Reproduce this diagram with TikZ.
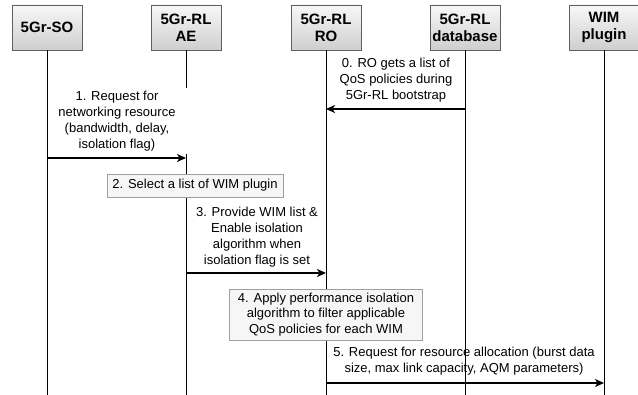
\documentclass[tikz,border=0pt]{standalone}
\usepackage{fontspec}
\setmainfont{Liberation Sans}
\usetikzlibrary{arrows.meta}
\begin{document}
\begin{tikzpicture}[x=1pt,y=-1pt,
 head/.style={draw=gray!75!black, line width=0.6pt, top color=gray!6, bottom color=gray!38, minimum width=70pt, minimum height=45pt, inner sep=0pt, align=center, font=\fontsize{15}{17}\selectfont\bfseries},
 life/.style={line width=0.8pt},
 msg/.style={line width=1.5pt, -{Stealth[length=9pt,width=8pt,inset=2.5pt]}},
 lbl/.style={fill=white, fill opacity=0.75, text opacity=1, align=center, font=\fontsize{13}{15.8}\selectfont, inner sep=0pt},
 act/.style={draw=gray!75, line width=0.6pt, fill=gray!7, align=center, font=\fontsize{13}{15.8}\selectfont, inner sep=0pt}
]
\useasboundingbox[fill=white] (0,0) rectangle (638,395);
% heads
\node[head] (so) at (47,27.5) {5Gr-SO};
\node[head] (ae) at (186,27.5) {5Gr-RL\\AE};
\node[head] (ro) at (326,27.5) {5Gr-RL\\RO};
\node[head] (db) at (465,27.5) {5Gr-RL\\database};
\node[head] (wim) at (604,27.5) {WIM\\plugin};
% lifeline ends
\coordinate (soE) at (so |- 0,395);
\coordinate (aeE) at (ae |- 0,395);
\coordinate (roE) at (ro |- 0,395);
\coordinate (dbE) at (db |- 0,395);
\coordinate (wimE) at (wim |- 0,395);
\draw[life] (so.south) -- (soE);
\draw[life] (ae.south) -- (aeE);
\draw[life] (ro.south) -- (roE);
\draw[life] (db.south) -- (dbE);
\draw[life] (wim.south) -- (wimE);
% label backgrounds
\node[lbl, minimum width=137pt, minimum height=48pt] (l0) at (396,80) {0. RO gets a list of\\QoS policies during\\5Gr-RL bootstrap};
\node[lbl, fill opacity=1, minimum width=139pt, minimum height=66pt] (l1) at (117,121) {1. Request for\\networking resource\\(bandwidth, delay,\\isolation flag)};
\node[lbl, minimum width=138pt, minimum height=66pt] (l3) at (257,237) {3. Provide WIM list \&\\Enable isolation\\algorithm when\\isolation flag is set};
\node[lbl, minimum width=276pt, minimum height=34pt] (l5) at (464,361) {5. Request for resource allocation (burst data\\size, max link capacity, AQM parameters)};
\draw[life] (so.south) -- (soE);
\draw[life] (ae.south |- l3.north) -- (aeE);
\draw[life] (ro.south |- l5.north) -- (roE);
\draw[life] (db.south |- l5.north) -- (dbE);
% activity boxes
\node[act, minimum width=176pt, minimum height=23pt] (a2) at (195,185.5) {2. Select a list of WIM plugin};
\node[act, minimum width=193pt, minimum height=51pt] (a4) at (326,314.5) {4. Apply performance isolation\\algorithm to filter applicable\\QoS policies for each WIM};
% messages
\draw[msg] (db |- 0,109) -- (ro |- 0,109);
\draw[msg] (so |- 0,158) -- (ae |- 0,158);
\draw[msg] (ae |- 0,273) -- (ro |- 0,273);
\draw[msg] (ro |- 0,383) -- (wim |- 0,383);
\end{tikzpicture}
\end{document}
